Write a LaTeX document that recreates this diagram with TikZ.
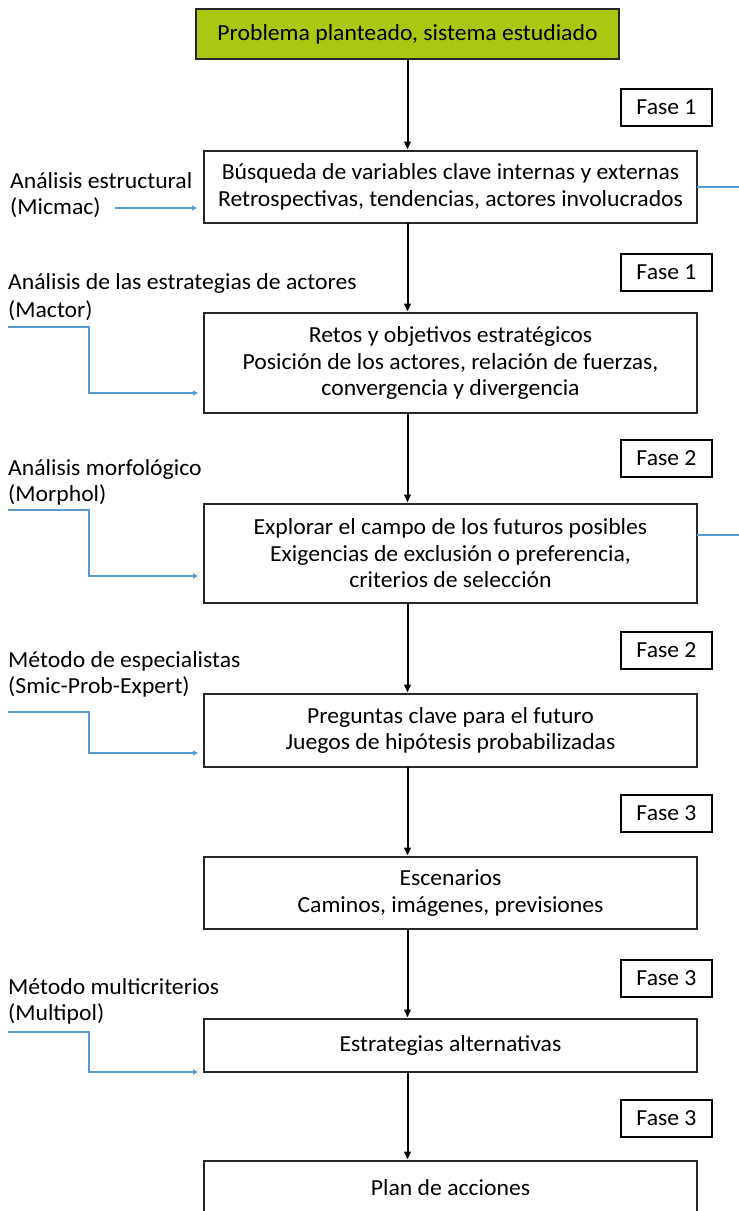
\documentclass[tikz,border=0pt]{standalone}
\usepackage{fontspec}
\setmainfont{Carlito}[FakeStretch=1.03]
\usetikzlibrary{arrows.meta}
\definecolor{limegreen}{RGB}{170,200,18}
\definecolor{lblue}{RGB}{91,155,213}
\begin{document}
\begin{tikzpicture}[x=1pt,y=1pt,
 box/.style={draw=black!85,line width=1.6pt,rectangle,inner sep=0pt,outer sep=0pt,minimum width=493pt,align=center,font=\fontsize{23}{26.5}\selectfont},
 fase/.style={draw=black,line width=2pt,minimum width=91pt,minimum height=37pt,inner sep=0pt,outer sep=0pt,font=\fontsize{23}{26}\selectfont},
 lab/.style={anchor=base west,align=left,inner sep=0pt,font=\fontsize{23}{26}\selectfont},
 flow/.style={-{Triangle[length=8pt,width=6.5pt]},line width=2pt,shorten >=1.5pt},
 feed/.style={-{Triangle[length=5pt,width=5pt]},draw=lblue,line width=1.6pt}]
\useasboundingbox (0,0) rectangle (739,-1211);
\clip (0,0) rectangle (739,-1211);

% main boxes
\node[box,fill=limegreen,minimum width=423pt,minimum height=50pt] (top) at (407.5,-34) {Problema planteado, sistema estudiado};
\node[box,minimum height=72pt] (b2) at (450.5,-187) {Búsqueda de variables clave internas y externas\\Retrospectivas, tendencias, actores involucrados};
\node[box,minimum height=100pt] (b3) at (450.5,-363) {Retos y objetivos estratégicos\\Posición de los actores, relación de fuerzas,\\convergencia y divergencia};
\node[box,minimum height=99pt] (b4) at (450.5,-553.5) {Explorar el campo de los futuros posibles\\Exigencias de exclusión o preferencia,\\criterios de selección};
\node[box,minimum height=73pt] (b5) at (450.5,-730.5) {Preguntas clave para el futuro\\Juegos de hipótesis probabilizadas};
\node[box,minimum height=72pt] (b6) at (450.5,-893) {Escenarios\\Caminos, imágenes, previsiones};
\node[box,minimum height=53pt] (b7) at (450.5,-1045.5) {Estrategias alternativas};
\node[box,minimum height=53pt] (b8) at (450.5,-1187.5) {Plan de acciones};

% phase boxes
\node[fase] (f1) at (666.5,-107) {Fase 1};
\node[fase] (f2) at (666.5,-272.5) {Fase 1};
\node[fase] (f3) at (666.5,-458.5) {Fase 2};
\node[fase] (f4) at (666.5,-650) {Fase 2};
\node[fase] (f5) at (666.5,-813.5) {Fase 3};
\node[fase] (f6) at (666.5,-978.5) {Fase 3};
\node[fase] (f7) at (666.5,-1118.5) {Fase 3};

% flow arrows
\draw[flow] (top.south) -- (top.south |- b2.north);
\draw[flow] (b2.south -| top.south) -- (b3.north -| top.south);
\draw[flow] (b3.south -| top.south) -- (b4.north -| top.south);
\draw[flow] (b4.south -| top.south) -- (b5.north -| top.south);
\draw[flow] (b5.south -| top.south) -- (b6.north -| top.south);
\draw[flow] (b6.south -| top.south) -- (b7.north -| top.south);
\draw[flow] (b7.south -| top.south) -- (b8.north -| top.south);

% left labels (anchor at baseline of the last line)
\node[lab] (l1) at (10,-214) {Análisis estructural\\(Micmac)};
\node[lab] (l2) at (8,-317) {Análisis de las estrategias de actores\\[2pt](Mactor)};
\node[lab] (l3) at (8,-501) {Análisis morfológico\\(Morphol)};
\node[lab] (l4) at (8,-693) {Método de especialistas\\(Smic-Prob-Expert)};
\node[lab] (l5) at (8,-1020) {Método multicriterios\\(Multipol)};

% blue feed connectors
\coordinate (s1) at (115,-208);
\coordinate (e1) at (197,-208);
\draw[feed] (s1) -- (e1);

\coordinate (s2) at (8,-327);
\coordinate (e2) at (198,-393);
\draw[feed] (s2) -- (89,-327) |- (e2);

\coordinate (s3) at (8,-510);
\coordinate (e3) at (198,-576);
\draw[feed] (s3) -- (89,-510) |- (e3);

\coordinate (s4) at (8,-712);
\coordinate (e4) at (198,-753);
\draw[feed] (s4) -- (89,-712) |- (e4);

\coordinate (s5) at (8,-1032);
\coordinate (e5) at (198,-1072);
\draw[feed] (s5) -- (89,-1032) |- (e5);

% right blue lines
\coordinate (r1) at (739,-187);
\coordinate (r2) at (739,-535);
\draw[lblue,line width=1.6pt] (b2.east) -- (r1);
\draw[lblue,line width=1.6pt] (b4.east |- r2) -- (r2);
\end{tikzpicture}
\end{document}
